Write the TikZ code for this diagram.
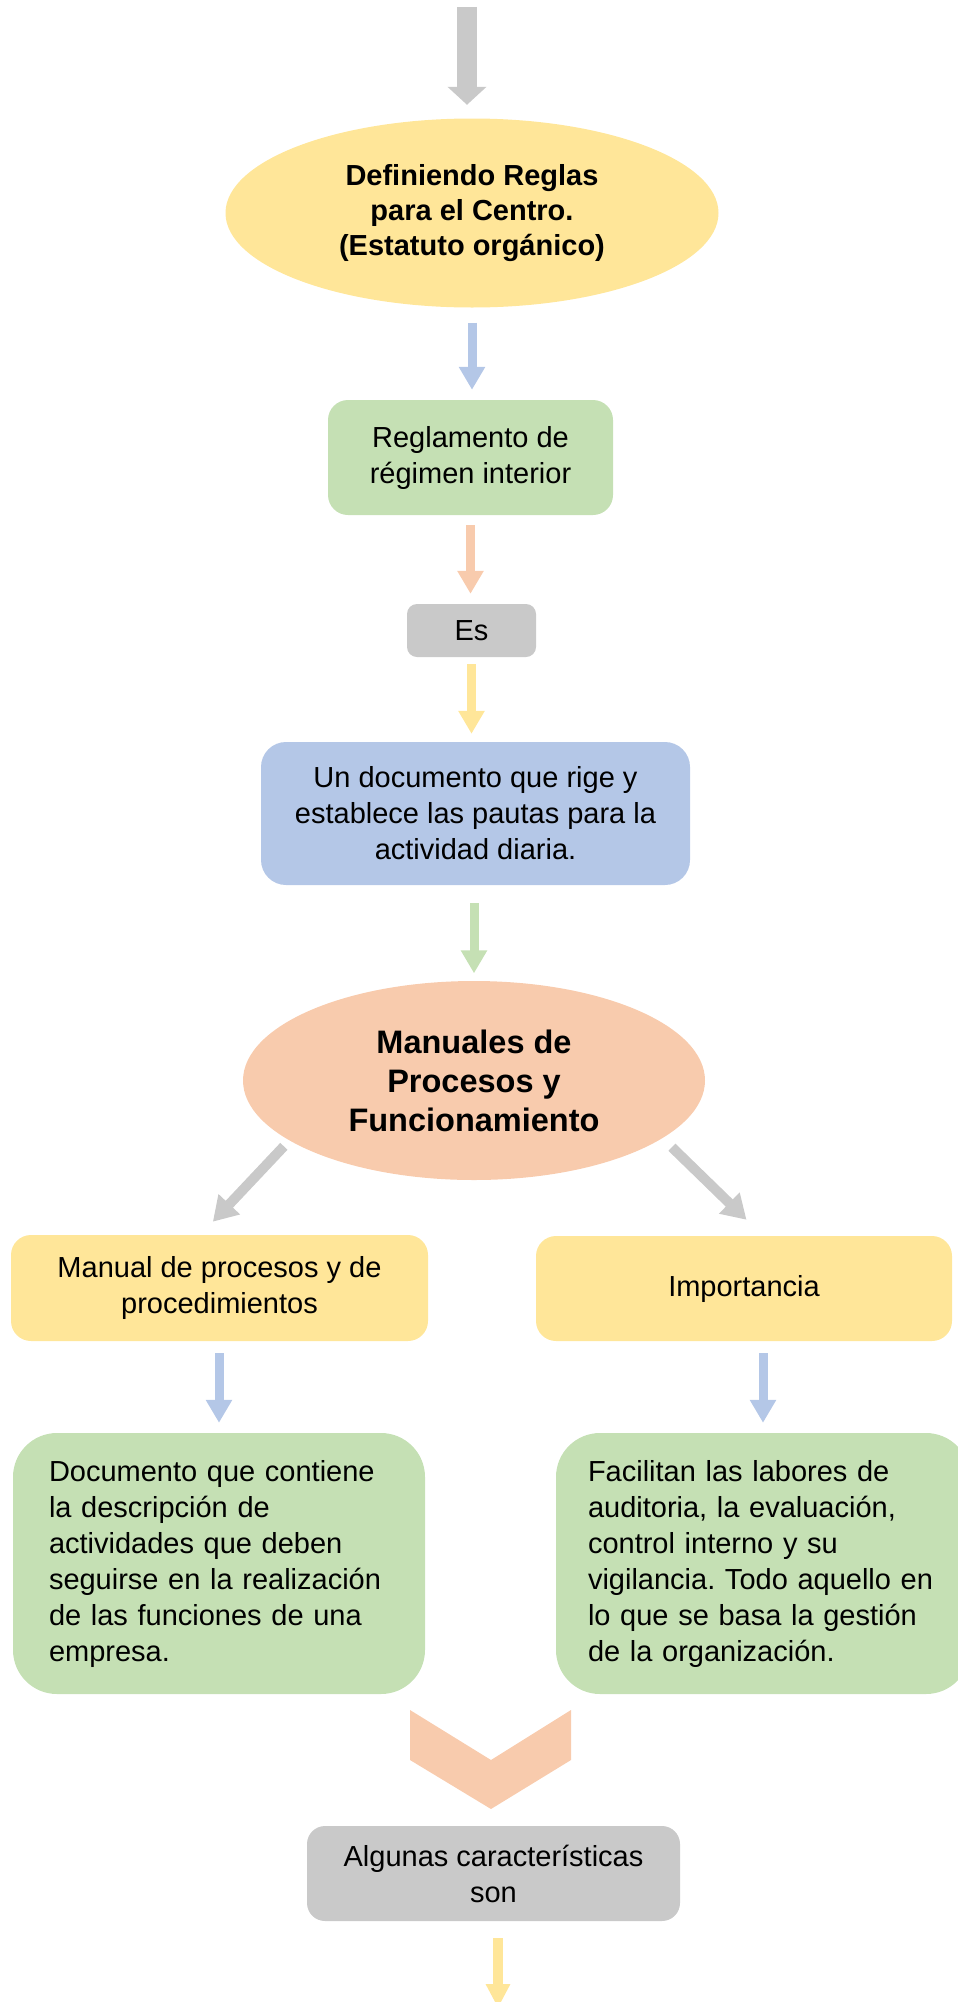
\documentclass[tikz,border=0pt]{standalone}
\usepackage{fontspec}
\setmainfont{Liberation Sans}
\usetikzlibrary{shapes.geometric,arrows.meta}
\definecolor{cyel}{HTML}{FFE699}
\definecolor{cgrn}{HTML}{C5E0B4}
\definecolor{cblu}{HTML}{B4C7E7}
\definecolor{cpch}{HTML}{F8CBAD}
\definecolor{cgry}{HTML}{C9C9C9}
\frenchspacing
\begin{document}
\begin{tikzpicture}[x=1pt,y=-1pt,
  rbox/.style={rectangle, rounded corners=#1, inner sep=0pt, align=center,
    font=\fontsize{29}{36}\selectfont},
  oval/.style={ellipse, inner sep=0pt, align=center},
  varrow/.style={line width=9pt, -{Triangle[width=25pt,length=23pt]}},
  garrow/.style={line width=10pt, cgry, -{Triangle[width=28pt,length=24pt]}},
  bigarrow/.style={line width=20pt, cgry, -{Triangle[width=38pt,length=18pt]}}
]
\useasboundingbox (0,0) rectangle (958,2002);
\clip (0,0) rectangle (958,2002);

% nodes
\node[oval, fill=cyel, minimum width=493pt, minimum height=189pt,
  font=\bfseries\fontsize{29}{35}\selectfont] (e1) at (472,213)
  {Definiendo Reglas\\para el Centro.\\(Estatuto orgánico)};
\node[rbox=20pt, fill=cgrn, minimum width=285pt, minimum height=115pt] (g1) at (470.5,457.5)
  {Reglamento de\\régimen interior};
\node[rbox=10pt, fill=cgry, minimum width=129pt, minimum height=53pt] (s1) at (471.5,630.5) {Es};
\node[rbox=25pt, fill=cblu, minimum width=429pt, minimum height=143pt] (b1) at (475.5,813.5)
  {Un documento que rige y\\establece las pautas para la\\actividad diaria.};
\node[oval, fill=cpch, minimum width=462pt, minimum height=199pt,
  font=\bfseries\fontsize{32.5}{39}\selectfont] (e2) at (474,1080.5)
  {Manuales de\\Procesos y\\Funcionamiento};
\node[rbox=20pt, fill=cyel, minimum width=417pt, minimum height=106pt] (ly) at (219.5,1288)
  {Manual de procesos y de\\procedimientos};
\node[rbox=20pt, fill=cyel, minimum width=416pt, minimum height=105pt] (ry) at (744,1288.5)
  {Importancia};
\node[rbox=44pt, fill=cgrn, minimum width=412pt, minimum height=261pt, align=left,
  text width=340pt, font=\fontsize{29}{36}\selectfont] (lg) at (219,1563.5)
  {Documento que contiene\\la descripción de\\actividades que deben\\seguirse en la realización\\de las funciones de una\\empresa.};
\node[rbox=44pt, fill=cgrn, minimum width=414pt, minimum height=261pt, align=left,
  text width=350pt, font=\fontsize{29}{36}\selectfont] (rg) at (763,1563.5)
  {Facilitan las labores de\\auditoria, la evaluación,\\control interno y su\\vigilancia. Todo aquello en\\lo que se basa la gestión\\de la organización.};
\node[rbox=18pt, fill=cgry, minimum width=373pt, minimum height=95pt] (g2) at (493.5,1873.5)
  {Algunas características\\son};

% chevron
\fill[cpch] (410,1710) -- (491,1760) -- (571,1710) -- (571,1760) -- (491,1809) -- (410,1760) -- cycle;

% connectors
\coordinate (top) at (467,7);
\coordinate (bot) at (498,2008);
\draw[bigarrow, shorten >=13.5pt] (top) -- (top |- e1.north);
\draw[varrow, cblu, shorten <=15pt, shorten >=10pt] (e1.south) -- (e1.south |- g1.north);
\draw[varrow, cpch, shorten <=10pt, shorten >=10pt] (g1.south) -- (g1.south |- s1.north);
\draw[varrow, cyel, shorten <=7pt, shorten >=8pt] (s1.south) -- (s1.south |- b1.north);
\draw[varrow, cgrn, shorten <=18pt, shorten >=7.5pt] (b1.south -| e2.north) -- (e2.north);
\draw[garrow, shorten <=8pt, shorten >=18pt] (e2.198.8) -- ([xshift=-19pt]ly.north);
\draw[garrow, shorten <=13pt, shorten >=23pt] (e2.343.4) -- ([xshift=19pt]ry.north);
\draw[varrow, cblu, shorten <=12pt, shorten >=10pt] (lg.north |- ly.south) -- (lg.north);
\draw[varrow, cblu, shorten <=12pt, shorten >=10pt] (rg.north |- ry.south) -- (rg.north);
\draw[line width=10pt, cyel, -{Triangle[width=23pt,length=24pt]}, shorten <=17pt] (g2.south -| bot) -- (bot);
\end{tikzpicture}
\end{document}
